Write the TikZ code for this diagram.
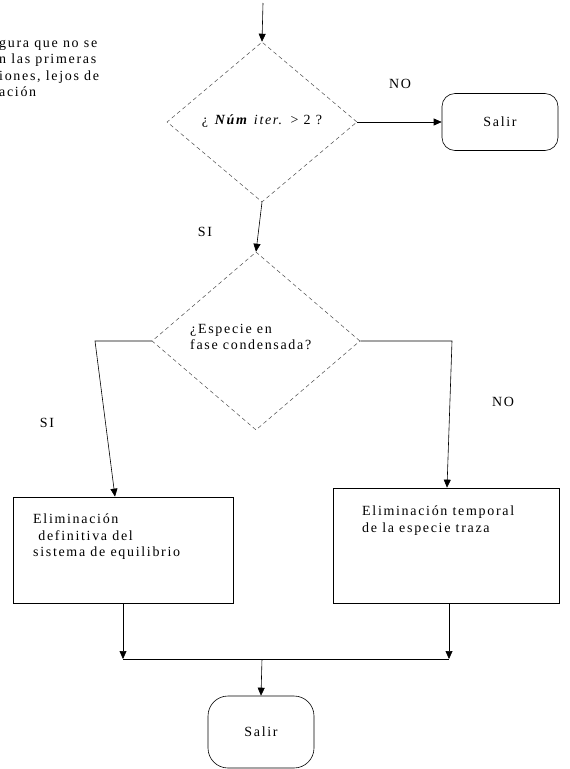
\documentclass[tikz,border=0pt]{standalone}
\usepackage{fontspec}
\setmainfont{Liberation Serif}[LetterSpace=12]
\usetikzlibrary{shapes.geometric,arrows.meta}
\begin{document}
\begin{tikzpicture}[x=1pt,y=-1pt,
  txt/.style={font=\fontsize{14}{16.5}\selectfont,inner sep=0pt},
  decision/.style={diamond,draw=black!70,dash pattern=on 4pt off 3pt,line width=0.5pt,inner sep=0pt},
  terminal/.style={rectangle,draw=black,line width=0.6pt,rounded corners=#1,inner sep=0pt},
  process/.style={rectangle,draw=black,line width=0.7pt,inner sep=0pt},
  flow/.style={draw=black,line width=0.6pt,-{Triangle[length=8pt,width=7pt]}},
  link/.style={draw=black,line width=0.6pt}
]
\path[use as bounding box] (0,0) rectangle (570,769);

% side note, cut at the page edge
\node[txt,anchor=north west,align=left] (note) at (-1,40)
  {gura que no se\\n las primeras\\iones, lejos de\\ación};

% first decision and exit
\coordinate (entry) at (263,3);
\node[decision,minimum width=190pt,minimum height=160pt] (d1) at (262,122) {};
\node[txt] (q1) at (262,121) {¿ \textbf{\textit{Núm}} \textit{iter.} > 2 ?};
\node[terminal=13pt,minimum width=116pt,minimum height=57pt] (s1) at (500,122) {};
\node[txt] (s1t) at (s1) {Salir};
\node[txt] (no1) at (400,84) {NO};
\node[txt] (si1) at (205,232) {SI};

% second decision
\node[decision,minimum width=208pt,minimum height=178pt] (d2) at (256,341) {};
\node[txt,anchor=north west,align=left] (q2) at (190,324) {¿Especie en\\fase condensada?};
\coordinate (cl) at (95,341);
\coordinate (cr) at (452,341);
\node[txt] (si2) at (47,423) {SI};
\node[txt] (no2) at (503,402) {NO};

% action boxes
\node[process,minimum width=220pt,minimum height=106pt] (b1) at (123,550) {};
\node[txt,anchor=north west,align=left] (b1t) at (33,514)
  {Eliminación\\\ definitiva del\\sistema de equilibrio};
\node[process,minimum width=226pt,minimum height=115pt] (b2) at (446,545.5) {};
\node[txt,anchor=north west,align=left] (b2t) at (362,506)
  {Eliminación temporal\\de la especie traza};

% merge line and final exit
\coordinate (jl) at (123,659);
\coordinate (jr) at (449,659);
\coordinate (jm) at (262,659);
\node[terminal=20pt,minimum width=106pt,minimum height=72pt] (s2) at (261,732) {};
\node[txt] (s2t) at (s2) {Salir};

% connectors
\draw[flow] (entry) -- (d1.north);
\draw[flow] (d1.east) -- (s1.west);
\draw[flow] (d1.south) -- (d2.north);
\draw[flow] (d2.west) -- (cl) -- ([xshift=-8pt]b1.north);
\draw[flow] (d2.east) -- (cr) -- ([xshift=1pt]b2.north);
\draw[flow] (b1.south) -- (jl);
\draw[flow] ([xshift=3pt]b2.south) -- (jr);
\draw[link] (jl) -- (jr);
\draw[flow] (jm) -- (s2.north);
\end{tikzpicture}
\end{document}
